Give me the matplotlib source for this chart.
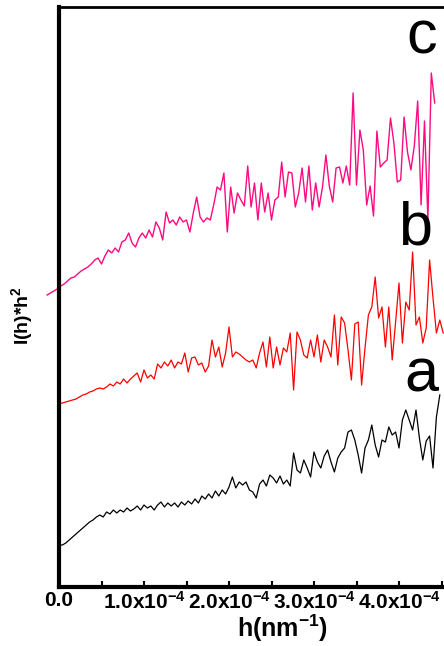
import matplotlib
matplotlib.use('Agg')
import matplotlib.pyplot as plt
from matplotlib.ticker import FixedLocator, FixedFormatter

plt.rcParams['font.family'] = ['Liberation Sans', 'DejaVu Sans']
plt.rcParams['mathtext.fontset'] = 'custom'
plt.rcParams['mathtext.rm'] = 'Liberation Sans'
plt.rcParams['mathtext.bf'] = 'Liberation Sans:bold'
plt.rcParams['mathtext.default'] = 'bf'

# h values in units of 1e-4 nm^-1
h_ab = [0.00, 0.04, 0.08, 0.12, 0.16, 0.20, 0.24, 0.28, 0.32, 0.36,
        0.40, 0.44, 0.48, 0.52, 0.56, 0.60, 0.64, 0.68, 0.72, 0.76,
        0.80, 0.84, 0.88, 0.92, 0.96, 1.00, 1.04, 1.08, 1.12, 1.16,
        1.20, 1.24, 1.28, 1.32, 1.36, 1.40, 1.44, 1.48, 1.52, 1.56,
        1.60, 1.64, 1.68, 1.72, 1.76, 1.80, 1.84, 1.88, 1.92, 1.96,
        2.00, 2.04, 2.08, 2.12, 2.16, 2.20, 2.24, 2.28, 2.32, 2.36,
        2.40, 2.44, 2.48, 2.52, 2.56, 2.60, 2.64, 2.68, 2.72, 2.76,
        2.80, 2.84, 2.88, 2.92, 2.96, 3.00, 3.04, 3.08, 3.12, 3.16,
        3.20, 3.24, 3.28, 3.32, 3.36, 3.40, 3.44, 3.48, 3.52, 3.56,
        3.60, 3.64, 3.68, 3.72, 3.76, 3.80, 3.84, 3.88, 3.92, 3.96,
        4.00, 4.04, 4.08, 4.12, 4.16, 4.20, 4.24, 4.28, 4.32, 4.36,
        4.40, 4.44, 4.48, 4.52]

h_c = [-0.14, -0.10, -0.06, -0.02, 0.02, 0.06, 0.10, 0.14, 0.18, 0.22,
       0.26, 0.30, 0.34, 0.38, 0.42, 0.46, 0.50, 0.54, 0.58, 0.62,
       0.66, 0.70, 0.74, 0.78, 0.82, 0.86, 0.90, 0.94, 0.98, 1.02,
       1.06, 1.10, 1.14, 1.18, 1.22, 1.26, 1.30, 1.34, 1.38, 1.42,
       1.46, 1.50, 1.54, 1.58, 1.62, 1.66, 1.70, 1.74, 1.78, 1.82,
       1.86, 1.90, 1.94, 1.98, 2.02, 2.06, 2.10, 2.14, 2.18, 2.22,
       2.26, 2.30, 2.34, 2.38, 2.42, 2.46, 2.50, 2.54, 2.58, 2.62,
       2.66, 2.70, 2.74, 2.78, 2.82, 2.86, 2.90, 2.94, 2.98, 3.02,
       3.06, 3.10, 3.14, 3.18, 3.22, 3.26, 3.30, 3.34, 3.38, 3.42,
       3.46, 3.50, 3.54, 3.58, 3.62, 3.66, 3.70, 3.74, 3.78, 3.82,
       3.86, 3.90, 3.94, 3.98, 4.02, 4.06, 4.10, 4.14, 4.18, 4.22,
       4.26, 4.30, 4.34, 4.38, 4.42]

# I(h)*h^2, arbitrary units (curves offset vertically)
a_y = [41, 41, 43, 46, 49, 52, 55, 58, 61, 64,
       66, 69, 71, 69, 74, 72, 76, 73, 76, 74,
       78, 75, 77, 80, 76, 81, 78, 80, 76, 81,
       84, 79, 83, 80, 83, 79, 84, 81, 85, 82,
       87, 83, 90, 87, 92, 88, 95, 90, 96, 92,
       99, 109, 98, 104, 101, 104, 96, 94, 88, 102,
       106, 100, 111, 108, 103, 110, 102, 106, 100, 133,
       116, 113, 126, 118, 109, 134, 124, 118, 130, 136,
       124, 114, 128, 134, 138, 154, 156, 146, 131, 113,
       138, 146, 161, 141, 129, 146, 144, 159, 151, 154,
       138, 166, 176, 166, 156, 176, 148, 126, 145, 150,
       118, 169, 191]

b_y = [182, 183, 184, 185, 186, 187, 189, 191, 192, 194,
       195, 197, 198, 197, 199, 202, 200, 204, 202, 207,
       203, 207, 210, 213, 204, 216, 208, 211, 207, 222,
       218, 224, 220, 226, 218, 224, 222, 233, 214, 228,
       229, 221, 223, 214, 220, 246, 229, 239, 219, 233,
       259, 229, 234, 232, 229, 226, 224, 226, 218, 233,
       244, 219, 249, 218, 239, 221, 238, 234, 253, 196,
       254, 246, 231, 228, 246, 229, 251, 224, 246, 239,
       229, 271, 221, 269, 263, 236, 206, 262, 264, 201,
       238, 271, 279, 309, 268, 279, 239, 279, 226, 264,
       303, 243, 284, 276, 334, 261, 269, 243, 258, 326,
       288, 253, 266, 253]

c_y = [291, 293, 295, 297, 300, 302, 305, 308, 309, 312,
       315, 317, 319, 322, 326, 328, 322, 330, 336, 333,
       338, 334, 344, 346, 353, 343, 339, 348, 353, 348,
       356, 349, 364, 358, 346, 374, 363, 366, 361, 369,
       364, 366, 354, 373, 389, 369, 364, 368, 366, 381,
       399, 396, 413, 354, 399, 373, 393, 386, 380, 420,
       379, 403, 366, 403, 374, 393, 366, 386, 389, 424,
       389, 414, 413, 379, 393, 418, 384, 420, 376, 403,
       379, 399, 431, 400, 384, 418, 419, 403, 420, 401,
       493, 401, 456, 436, 381, 400, 370, 455, 419, 423,
       426, 468, 443, 404, 406, 469, 434, 416, 440, 485,
       381, 465, 366, 513, 483]

tick_values = [0.0, 1.0, 2.0, 3.0, 4.0]
minor_values = [0.5, 1.5, 2.5, 3.5, 4.5]
tick_labels = ['0.0', '1.0x10$^{-4}$', '2.0x10$^{-4}$', '3.0x10$^{-4}$', '4.0x10$^{-4}$']
curve_labels = ['a', 'b', 'c']

W, H = 444, 646
fig = plt.figure(figsize=(W / 100, H / 100), dpi=100)
ax = fig.add_axes([59 / W, (H - 587) / H, (W - 59) / W, 580 / H])

scale = 1e-4
xa = [v * scale for v in h_ab[:len(a_y)]]
xb = [v * scale for v in h_ab[:len(b_y)]]
xc = [v * scale for v in h_c[:len(c_y)]]

ax.plot(xa, a_y, color='black', lw=0.9)
ax.plot(xb, b_y, color='#ff0000', lw=0.9)
ax.plot(xc, c_y, color='#ff0a80', lw=1.0, clip_on=False)

ax.set_xlim(0, (W - 59) / 85 * scale)
ax.set_ylim(-1, 579)

ax.xaxis.set_major_locator(FixedLocator([v * scale for v in tick_values]))
ax.xaxis.set_major_formatter(FixedFormatter(tick_labels))
ax.xaxis.set_minor_locator(FixedLocator([v * scale for v in minor_values]))
ax.tick_params(axis='x', which='both', direction='in', length=4, width=1.5,
               labelsize=15, pad=3)
ax.tick_params(axis='y', left=False, labelleft=False)
for lab in ax.get_xticklabels():
    lab.set_fontweight('bold')

ax.spines['right'].set_visible(False)
ax.spines['left'].set_linewidth(3)
ax.spines['bottom'].set_linewidth(3)
ax.spines['top'].set_linewidth(2)

ax.set_xlabel('h(nm$^{-1}$)', fontsize=18, fontweight='bold', va='center')
ax.xaxis.set_label_coords((283 - 59) / 385, (587 - 628) / 580)
ax.set_ylabel('I(h)*h$^{2}$', fontsize=14, fontweight='bold', va='center', ha='center')
ax.yaxis.set_label_coords((22 - 59) / 385, (587 - 316) / 580)

label_px = [(421, 392), (415, 245), (422, 53)]
for txt, (px, py) in zip(curve_labels, label_px):
    fig.text(px / W, 1 - py / H, txt, fontsize=44, ha='center', va='baseline')

fig.savefig('out.png', dpi=100)
